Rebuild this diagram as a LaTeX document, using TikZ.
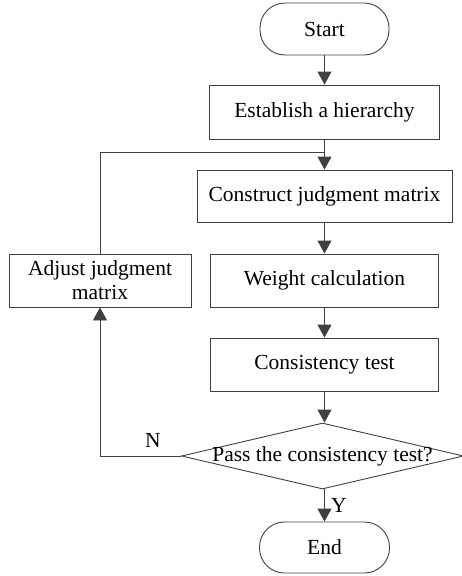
\documentclass[tikz,border=0pt]{standalone}
\usepackage{fontspec}
\setmainfont{Liberation Serif}
\usetikzlibrary{arrows.meta,shapes.geometric}
\definecolor{linec}{HTML}{404040}
\begin{document}
\begin{tikzpicture}[x=1pt,y=-1pt,
  every node/.style={font=\fontsize{21.5}{25}\selectfont, text=black},
  box/.style={draw=linec, line width=0.9pt, rectangle, inner sep=0pt, align=center},
  term/.style={draw=linec, line width=0.9pt, rectangle, rounded corners=25pt, inner sep=0pt},
  conn/.style={draw=linec, line width=0.9pt},
  arr/.style={conn, -{Triangle[width=14pt,length=13pt]}, color=linec},
  lbl/.style={inner sep=0pt}]
\useasboundingbox (0,0) rectangle (462,576);
\node[term, minimum width=129pt, minimum height=52pt] (start) at (324.5,29) {Start};
\node[box, minimum width=230pt, minimum height=54pt] (est) at (324.5,112) {Establish a hierarchy};
\node[box, minimum width=255pt, minimum height=52pt] (cons) at (324.5,196) {Construct judgment matrix};
\node[box, minimum width=182pt, minimum height=53pt] (adj) at (100,280.5) {Adjust judgment\\[-1pt]matrix};
\node[box, minimum width=228pt, minimum height=53pt] (wt) at (324.5,280.5) {Weight calculation};
\node[box, minimum width=228pt, minimum height=53pt] (ct) at (324.5,364.5) {Consistency test};
\node[diamond, draw=linec, line width=0.9pt, minimum width=282pt, minimum height=66pt, inner sep=0pt] (dia) at (322.5,456) {};
\node[lbl] (diat) at (dia.center) {Pass the consistency test?};
\node[term, minimum width=130pt, minimum height=51pt] (end) at (324.5,547.5) {End};
\coordinate (j) at (324.5,152);
\coordinate (jl) at (100,152);
\coordinate (nl) at (100,456);
\node[lbl] (N) at (153,440) {N};
\node[lbl, anchor=west] (Y) at (331,505) {Y};
\draw[arr] (start) -- (est);
\draw[arr] (est) -- (cons);
\draw[arr] (cons) -- (wt);
\draw[arr] (wt) -- (ct);
\draw[arr] (ct) -- (ct |- dia.north);
\draw[arr] (dia.south -| end) -- (end);
\draw[conn] (adj.north) -- (jl) -- (j);
\draw[arr] (dia.west) -- (nl) -- (adj.south);
\end{tikzpicture}
\end{document}
